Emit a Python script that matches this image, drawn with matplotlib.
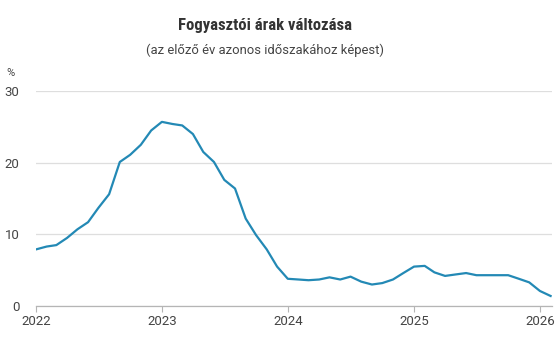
import matplotlib
matplotlib.use("Agg")
import matplotlib.pyplot as plt
import pandas as pd

# Hungarian CPI, year-on-year change (%), monthly, Jan 2022 - Feb 2026
cpi = [7.9, 8.3, 8.5, 9.5, 10.7, 11.7, 13.7, 15.6, 20.1, 21.1, 22.5, 24.5,
       25.7, 25.4, 25.2, 24.0, 21.5, 20.1, 17.6, 16.4, 12.2, 9.9, 7.9, 5.5,
       3.8, 3.7, 3.6, 3.7, 4.0, 3.7, 4.1, 3.4, 3.0, 3.2, 3.7, 4.6,
       5.5, 5.6, 4.7, 4.2, 4.4, 4.6, 4.3, 4.3, 4.3, 4.3, 3.8, 3.3,
       2.1, 1.4]
months = pd.date_range("2022-01-01", periods=len(cpi), freq="MS")
year_ticks = ["2022", "2023", "2024", "2025", "2026"]
y_ticks = [0, 10, 20, 30]

plt.rcParams['font.family'] = ['Roboto', 'DejaVu Sans']

fig = plt.figure(figsize=(5.57, 3.41), dpi=100)
ax = fig.add_axes([0.0646, 0.1026, 0.9264, 0.6304])

ax.plot(months, cpi, color='#2389b5', linewidth=1.6, solid_joinstyle='round')

ax.set_ylim(0, 30)
ax.set_yticks(y_ticks)
ax.set_xlim(pd.Timestamp("2022-01-01"), pd.Timestamp("2026-02-05"))
ax.set_xticks([pd.Timestamp(y + "-01-01") for y in year_ticks])
ax.set_xticklabels(year_ticks)

ax.grid(axis='y', color='#dedede', linewidth=0.9)
ax.set_axisbelow(True)
for s in ['top', 'right', 'left']:
    ax.spines[s].set_visible(False)
ax.spines['bottom'].set_color('#b5b5b5')
ax.spines['bottom'].set_linewidth(0.9)

ax.tick_params(axis='y', length=0, pad=12, labelsize=9.5, labelcolor='#444444')
ax.tick_params(axis='x', length=4.5, width=0.8, color='#b5b5b5', pad=2,
               labelsize=9.5, labelcolor='#444444')

fig.text(0.476, 0.926, "Fogyasztói árak változása", ha='center', va='center',
         fontsize=12, fontweight='bold', color='#333333',
         family=['Roboto Condensed', 'Roboto', 'DejaVu Sans'])
fig.text(0.476, 0.853, "(az előző év azonos időszakához képest)", ha='center', va='center',
         fontsize=9.35, color='#444444')
fig.text(0.012, 0.787, "%", ha='left', va='center', fontsize=8, color='#444444')

fig.savefig("out.png", dpi=100)
